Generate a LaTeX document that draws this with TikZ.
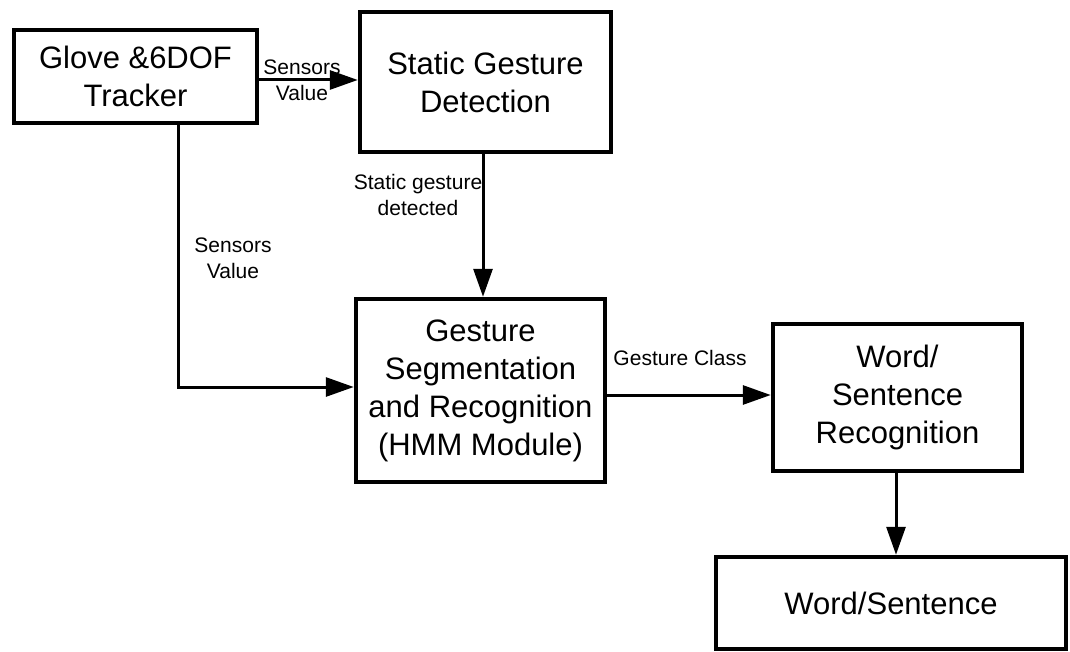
\documentclass[tikz,border=0pt]{standalone}
\usepackage{fontspec}
\setmainfont{Liberation Sans}
\usetikzlibrary{arrows.meta}
\begin{document}
\begin{tikzpicture}[x=1pt,y=-1pt,
  blk/.style={draw=black, line width=4.5pt, inner sep=0pt, align=center,
    font=\fontsize{31}{38}\selectfont},
  lbl/.style={inner sep=0pt, align=center, font=\fontsize{21}{26}\selectfont},
  arr/.style={draw=black, line width=3pt, -{Triangle[length=28pt,width=19pt]}}]
\useasboundingbox (0,0) rectangle (1070,652);
\fill[white] (0,0) rectangle (1070,652);
\node[blk, minimum width=243pt, minimum height=93pt] (glove) at (135.5,76.5) {Glove \&6DOF\\Tracker};
\node[blk, minimum width=251pt, minimum height=140pt] (static) at (485.5,82) {Static Gesture\\Detection};
\node[blk, minimum width=249pt, minimum height=183pt] (gesture) at (480.5,390.5) {Gesture\\Segmentation\\and Recognition\\(HMM Module)};
\node[blk, minimum width=249pt, minimum height=147pt] (recog) at (897.5,397.5) {Word/\\Sentence\\Recognition};
\node[blk, minimum width=350pt, minimum height=92pt] (ws) at (891,603) {\raisebox{-12pt}{Word/Sentence}};
\draw[arr] (glove.east |- 0,80) -- (static.west |- 0,80);
\node[lbl] (l1) at (302,80) {Sensors\\Value};
\draw[arr] (glove.south -| 178,0) |- (gesture.west |- 0,387);
\node[lbl] (l2) at (233,258) {Sensors\\Value};
\draw[arr] (static.south -| 483,0) -- (gesture.north -| 483,0);
\node[lbl] (l3) at (418,195) {Static gesture\\detected};
\draw[arr] (gesture.east |- 0,395) -- (recog.west |- 0,395);
\node[lbl] (l4) at (680,358) {Gesture Class};
\draw[arr] (recog.south -| 896,0) -- (ws.north -| 896,0);
\end{tikzpicture}
\end{document}
